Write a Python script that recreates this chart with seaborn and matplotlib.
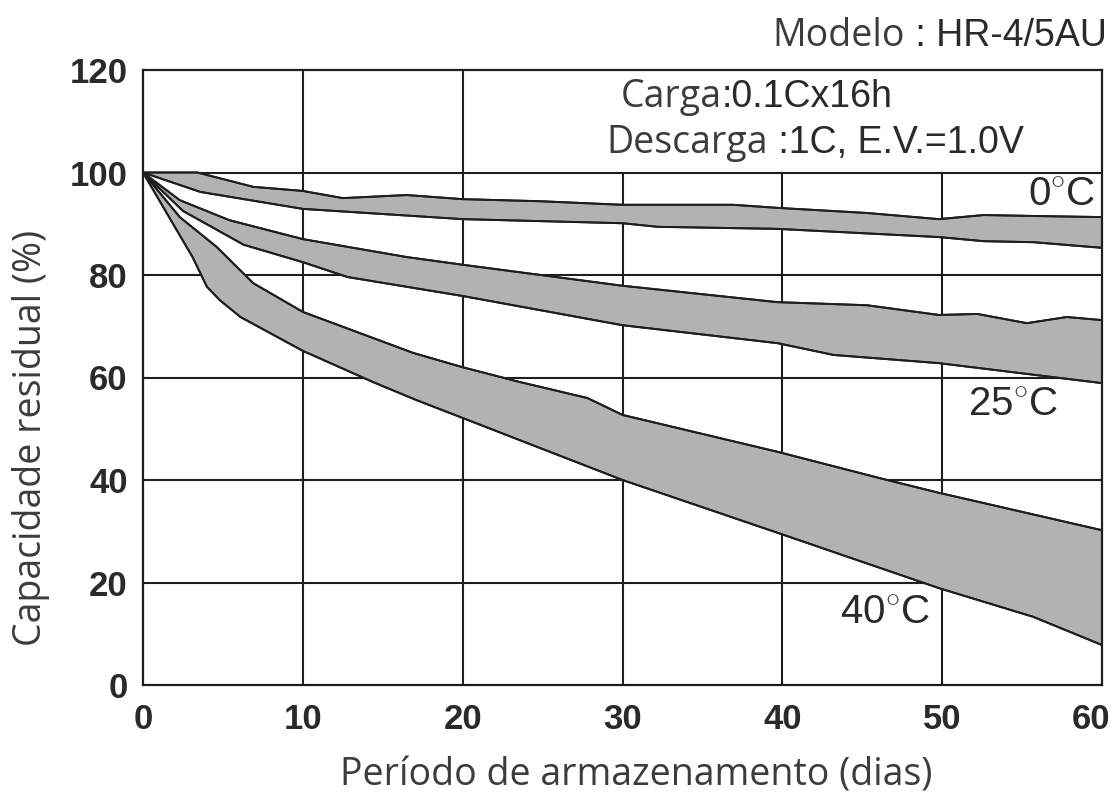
import numpy as np
import pandas as pd
import matplotlib
matplotlib.use("Agg")
import matplotlib.pyplot as plt
import matplotlib.transforms as mtransforms
import seaborn as sns

# Storage days and residual capacity (%) for the upper/lower edge of each band
dias_0_sup = [0, 3.4, 6.9, 10, 12.5, 16.5, 20, 24.8, 30, 36.9, 39.7, 45.3, 49.8, 52.6, 56, 60]
cap_0_sup = [100, 100, 97.2, 96.4, 95, 95.6, 94.8, 94.4, 93.7, 93.7, 93.1, 92.1, 90.9, 91.7, 91.5, 91.3]
dias_0_inf = [0, 3.6, 10, 20, 30, 32.2, 39.7, 49.8, 52.6, 55.7, 60]
cap_0_inf = [100, 96.2, 92.9, 90.9, 90.1, 89.4, 89, 87.4, 86.6, 86.4, 85.3]

dias_25_sup = [0, 2.3, 5.4, 10, 16.5, 20, 30, 39.7, 45.3, 49.8, 52.2, 55.3, 57.8, 60]
cap_25_sup = [100, 94.6, 90.7, 87, 83.5, 82, 77.9, 74.7, 74.1, 72.2, 72.4, 70.6, 71.8, 71.2]
dias_25_inf = [0, 2.5, 6.3, 10, 12.8, 20, 30, 39.7, 43.2, 49.8, 60]
cap_25_inf = [100, 92.5, 85.9, 82.5, 79.6, 75.9, 70.2, 66.7, 64.4, 62.8, 58.9]

dias_40_sup = [0, 2.3, 4.6, 6.9, 10, 16.9, 20, 23.6, 27.8, 30, 39.7, 46.3, 49.8, 60]
cap_40_sup = [100, 91.3, 85.5, 78.4, 72.8, 64.8, 62, 59.1, 56, 52.7, 45.5, 40.2, 37.5, 30.2]
dias_40_inf = [0, 1.5, 3.1, 4, 4.8, 6.1, 10, 14.4, 17.1, 20, 30, 39.7, 49.8, 55.7, 60]
cap_40_inf = [100, 92, 83.5, 77.7, 75.1, 71.8, 65.2, 59.1, 55.6, 52.1, 40, 29.7, 18.9, 13.3, 7.8]

temperaturas = ["0", "25", "40"]
pos_rotulos = [(59.6, 95.6), (54.4, 54.6), (46.4, 14.2)]

x_ticks = [0, 10, 20, 30, 40, 50, 60]
y_ticks = [0, 20, 40, 60, 80, 100, 120]

faixas = {
    "0": (dias_0_sup, cap_0_sup, dias_0_inf, cap_0_inf),
    "25": (dias_25_sup, cap_25_sup, dias_25_inf, cap_25_inf),
    "40": (dias_40_sup, cap_40_sup, dias_40_inf, cap_40_inf),
}

linhas = []
for temp, (xs, ys, xi, yi) in faixas.items():
    for borda, xx, yy in (("sup", xs, ys), ("inf", xi, yi)):
        for a, b in zip(xx, yy):
            linhas.append({"curva": f"{temp}-{borda}", "dias": a, "capacidade": b})
df = pd.DataFrame(linhas)

sns.set_theme(style="white")
plt.rcParams["font.family"] = ["Liberation Sans", "DejaVu Sans"]
plt.rcParams["mathtext.fontset"] = "custom"
plt.rcParams["mathtext.rm"] = "Liberation Sans"

TXT = "#3c3c3c"
NUM = "#2a2a2a"
LINE = "#1e1e1e"
OPEN = ["Open Sans", "DejaVu Sans"]

fig = plt.figure(figsize=(11.14, 7.96), dpi=100)
ax = fig.add_axes([143 / 1114, 1 - 685 / 796, (1102 - 143) / 1114, (685 - 70) / 796])

# grid: full-height lines at 10 and 20 days, the rest stop at 100 %
for yv in [20, 40, 60, 80, 100]:
    ax.axhline(yv, color=LINE, lw=1.5, zorder=1)
for xv in [10, 20]:
    ax.vlines(xv, 0, 120, color=LINE, lw=1.5, zorder=1)
for xv in [30, 40, 50]:
    ax.vlines(xv, 0, 100, color=LINE, lw=1.5, zorder=1)

# shaded bands
for temp, (xs, ys, xi, yi) in faixas.items():
    px = np.r_[xs, xi[::-1]]
    py = np.r_[ys, yi[::-1]]
    ax.fill(px, py, facecolor="#b2b2b2", edgecolor=LINE, lw=1.4, zorder=2)

sns.lineplot(data=df, x="dias", y="capacidade", units="curva", estimator=None,
             sort=False, color=LINE, lw=1.4, ax=ax, zorder=3, legend=False)

for t, (xx, yy) in zip(temperaturas, pos_rotulos):
    ax.text(xx, yy, t + r"$^{\circ}$C", ha="right" if t == "0" else "center",
            va="center", fontsize=29, color=NUM, zorder=4)

ax.set_xlim(0, 60)
ax.set_ylim(0, 120)
ax.set_xticks(x_ticks)
ax.set_yticks(y_ticks)
ax.set_xticklabels([str(v) for v in x_ticks], fontsize=25, color=NUM, fontweight="bold")
ax.set_yticklabels([str(v) for v in y_ticks], fontsize=25, color=NUM, fontweight="bold")
ax.tick_params(axis="both", length=0)
ax.tick_params(axis="x", pad=13)
ax.tick_params(axis="y", pad=11)
last = ax.get_xticklabels()[-1]
last.set_horizontalalignment("right")
last.set_transform(last.get_transform() + mtransforms.ScaledTranslation(6 / 72, 0, fig.dpi_scale_trans))

for s in ax.spines.values():
    s.set_visible(True)
    s.set_color(LINE)
    s.set_linewidth(1.6)

ax.set_xlabel("Período de armazenamento (dias)", family=OPEN, fontsize=27, color=TXT)
ax.set_ylabel("Capacidade residual (%)", family=OPEN, fontsize=27, color=TXT)
ax.xaxis.set_label_coords(0.514, -0.116)
ax.yaxis.set_label_coords(-0.097, 0.402)

# header annotations
def rotulo(x_col, y_base, chave, valor):
    fig.text(x_col / 1114, 1 - y_base / 796, chave, ha="right", va="baseline",
             family=OPEN, fontsize=27, color=TXT)
    fig.text(x_col / 1114, 1 - y_base / 796, valor, ha="left", va="baseline",
             fontsize=27, color=NUM)

rotulo(905, 46, "Modelo", " : HR-4/5AU")
rotulo(722, 107, "Carga", ":0.1Cx16h")
rotulo(768, 153, "Descarga", " :1C, E.V.=1.0V")

fig.savefig("out.png", dpi=100, facecolor="white")
